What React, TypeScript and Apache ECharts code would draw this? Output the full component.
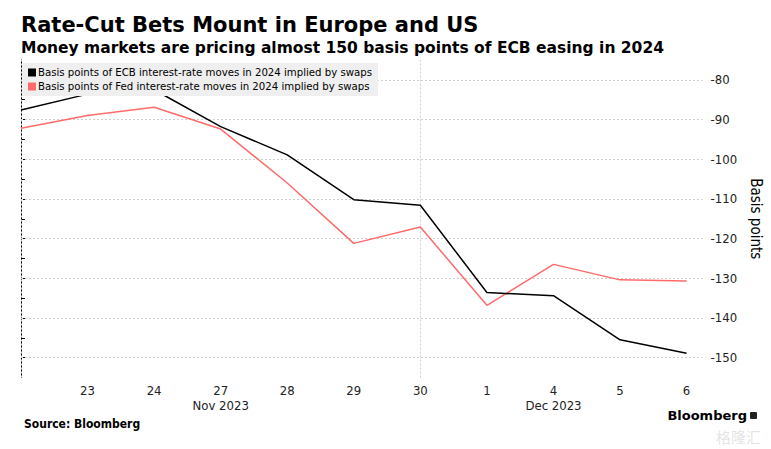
import React, { useEffect, useRef } from "react";
import * as echarts from "echarts";

const dayLabels = ["22", "23", "24", "27", "28", "29", "30", "1", "4", "5", "6"];
const monthLabels: { [k: number]: string } = { 3: "Nov 2023", 8: "Dec 2023" };
const ecbValues = [-87.6, -83.6, -82.5, -91.8, -98.9, -110.2, -111.6, -133.6, -134.4, -145.5, -148.9];
const fedValues = [-92.2, -89.0, -86.9, -92.4, -106.0, -121.2, -117.1, -136.8, -126.5, -130.4, -130.7];
const gridValues = [-80, -90, -100, -110, -120, -130, -140, -150];
const monthBoundaries = [0, 6];
const seriesNames = [
  "Basis points of ECB interest-rate moves in 2024 implied by swaps",
  "Basis points of Fed interest-rate moves in 2024 implied by swaps",
];

const FONT = "'DejaVu Sans Condensed', 'DejaVu Sans', sans-serif";
const WIDE = "'DejaVu Sans', sans-serif";

export default function App() {
  const ref = useRef<HTMLDivElement>(null);
  useEffect(() => {
    if (!ref.current) return;
    const chart = echarts.init(ref.current, undefined, { renderer: "svg" });
    const toPairs = (arr: number[]) => arr.map((v, i) => [i, v]);
    chart.setOption({
      animation: false,
      backgroundColor: "#ffffff",
      textStyle: { fontFamily: FONT },
      title: [
        {
          text: "Rate-Cut Bets Mount in Europe and US",
          left: 16,
          top: 9,
          textStyle: { fontFamily: WIDE, fontSize: 21, fontWeight: "bold", color: "#000" },
        },
        {
          text: "Money markets are pricing almost 150 basis points of ECB easing in 2024",
          left: 16,
          top: 35,
          textStyle: { fontFamily: WIDE, fontSize: 15.5, fontWeight: "bold", color: "#000" },
        },
        {
          text: "Source: Bloomberg",
          left: 19,
          top: 413,
          textStyle: { fontFamily: FONT, fontSize: 12, fontWeight: "bold", color: "#000" },
        },
      ],
      graphic: [
        {
          type: "text",
          right: 24,
          top: 409,
          style: { text: "Bloomberg", font: "bold 13px " + WIDE, fill: "#000" },
        },
        {
          type: "rect",
          shape: { x: 750, y: 412, width: 7, height: 7, r: 1 },
          style: { fill: "#222" },
        },
        {
          type: "text",
          left: 716,
          top: 429,
          style: { text: "格隆汇", font: "15px 'Noto Sans CJK SC'", fill: "rgba(160,160,160,0.3)" },
        },
      ],
      legend: {
        left: 22,
        top: 63,
        orient: "vertical",
        icon: "rect",
        itemWidth: 8,
        itemHeight: 8,
        itemGap: 3,
        padding: [4, 6, 4, 6],
        backgroundColor: "#efefef",
        textStyle: { fontFamily: FONT, fontSize: 11.3, color: "#000", padding: [0, 0, 0, -3] },
        data: seriesNames,
      },
      grid: { left: 21, right: 65, top: 60, bottom: 71.5, containLabel: false },
      xAxis: [
        {
          type: "value",
          min: 0,
          max: 10.24,
          interval: 1,
          axisLine: { show: false },
          axisTick: { show: false },
          splitLine: { show: false },
          axisLabel: {
            showMinLabel: false,
            showMaxLabel: false,
            margin: 6,
            fontSize: 13,
            color: "#222",
            fontFamily: FONT,
            formatter: (v: number) => (Number.isInteger(v) ? dayLabels[v] ?? "" : ""),
          },
        },
        {
          type: "value",
          position: "bottom",
          offset: 16,
          min: 0,
          max: 10.24,
          interval: 1,
          axisLine: { show: false },
          axisTick: { show: false },
          splitLine: { show: false },
          axisLabel: {
            showMinLabel: false,
            showMaxLabel: false,
            margin: 5,
            fontSize: 13,
            color: "#222",
            fontFamily: FONT,
            formatter: (v: number) => monthLabels[v] ?? "",
          },
        },
      ],
      yAxis: {
        type: "value",
        position: "right",
        min: -155,
        max: -75,
        interval: 5,
        name: "Basis points",
        nameLocation: "middle",
        nameRotate: -90,
        nameGap: 32,
        nameTextStyle: { fontFamily: FONT, fontSize: 15, color: "#000" },
        axisLine: { show: true, lineStyle: { color: "#000", width: 1 } },
        axisTick: { show: true, length: 4, lineStyle: { color: "#000" } },
        splitLine: { show: false },
        axisLabel: {
          margin: 8,
          fontSize: 13,
          color: "#222",
          fontFamily: FONT,
          showMinLabel: false,
          showMaxLabel: false,
          formatter: (v: number) => (v % 10 === 0 ? String(v) : ""),
        },
      },
      series: [
        {
          name: seriesNames[0],
          type: "line",
          data: toPairs(ecbValues),
          showSymbol: false,
          symbol: "none",
          z: 3,
          lineStyle: { color: "#000", width: 1.5 },
          itemStyle: { color: "#000" },
          markLine: {
            silent: true,
            symbol: "none",
            label: { show: false },
            lineStyle: { color: "#cfcfcf", type: [2, 2], width: 1 },
            z: 1,
            data: [
              ...gridValues.map((v) => ({ yAxis: v })),
              ...monthBoundaries.map((v) => ({ xAxis: v })),
            ],
          },
        },
        {
          name: seriesNames[1],
          type: "line",
          data: toPairs(fedValues),
          showSymbol: false,
          symbol: "none",
          z: 2,
          lineStyle: { color: "#ff6b6b", width: 1.5 },
          itemStyle: { color: "#ff6b6b" },
        },
      ],
    });
    return () => chart.dispose();
  }, []);
  return (
    <div
      ref={ref}
      style={{ position: "fixed", left: 0, top: 0, width: 771, height: 449 }}
    />
  );
}
